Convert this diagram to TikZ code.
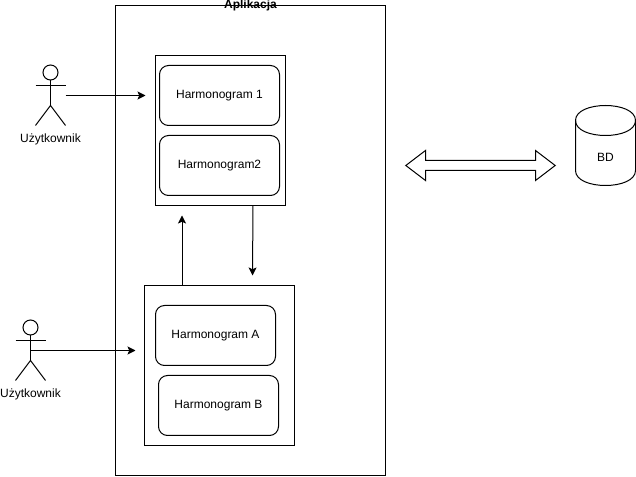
\documentclass[tikz,border=0pt]{standalone}
\usepackage{fontspec}
\setmainfont{Liberation Sans}
\usetikzlibrary{arrows.meta,positioning}
\tikzset{
  line/.style={draw=black,line width=0.75pt},
  box/.style={line,rectangle,inner sep=0pt,fill=none},
  rbox/.style={line,rectangle,rounded corners=6.75pt,inner sep=0pt,minimum width=90pt,minimum height=45pt,text height=6.5pt,text depth=1.5pt,font=\fontsize{9pt}{11pt}\selectfont},
  lbl/.style={inner sep=0pt,text height=6.5pt,text depth=1.5pt,font=\fontsize{9pt}{11pt}\selectfont},
  flow/.style={line,-{Stealth[length=6pt,width=6pt,inset=1.3pt]},shorten <=0pt,shorten >=0pt},
  headc/.style={line,circle,inner sep=0pt,minimum size=11.25pt}
}
\begin{document}
\begin{tikzpicture}[x=0.75pt,y=-0.75pt]
\useasboundingbox (0,0) rectangle (636,477);
\fill[white] (0,0) rectangle (636,477);
% outer frame
\node[box,minimum width=202.5pt,minimum height=352.5pt] (app) at (250.5,240.5) {};
\node[lbl,font=\fontsize{9pt}{11pt}\selectfont\bfseries] (apptitle) at (250.5,5.5) {Aplikacja};
% upper group
\node[box,minimum width=97.5pt,minimum height=112.5pt] (g1) at (220.5,130.5) {};
\node[rbox] (h1) at (219.5,95.5) {Harmonogram 1};
\node[rbox] (h2) at (219.5,165.5) {Harmonogram2};
% lower group
\node[box,minimum width=112.5pt,minimum height=120pt] (g2) at (219.5,365.5) {};
\node[rbox] (ha) at (215.5,335.5) {Harmonogram A};
\node[rbox] (hb) at (218.5,405.5) {Harmonogram B};
% actor 1
\node[headc] (a1) at (50.5,72.5) {};
\coordinate (a1hip) at (50.5,105.5);
\draw[line] (a1.south) -- (a1hip);
\draw[line] (35.5,85.5) -- (65.5,85.5);
\draw[line] (35.5,125.5) -- (a1hip) -- (65.5,125.5);
\node[lbl] (a1t) at (50.5,139.5) {Użytkownik};
% actor 2
\node[headc] (a2) at (30.5,327.5) {};
\coordinate (a2hip) at (30.5,360.5);
\draw[line] (a2.south) -- (a2hip);
\draw[line] (15.5,340.5) -- (45.5,340.5);
\draw[line] (15.5,380.5) -- (a2hip) -- (45.5,380.5);
\node[lbl] (a2t) at (30.5,394.5) {Użytkownik};
% connectors
\coordinate (a1out) at (65.5,95.5);
\coordinate (a1in) at (145.5,95.5);
\draw[flow] (a1out) -- (a1in);
\coordinate (a2out) at (30.5,350.5);
\coordinate (a2in) at (135.5,350.5);
\draw[flow] (a2out) -- (a2in);
\coordinate (upfrom) at (182,285.5);
\coordinate (upto) at (182,215.5);
\draw[flow] (upfrom) -- (upto);
\coordinate (downfrom) at (253,205.5);
\coordinate (downto) at (252.5,275.5);
\draw[flow] (downfrom) -- (downto);
% double block arrow
\draw[line,line join=miter] (405.8,165.5) -- (425.5,150.5) -- (425.5,160.5) -- (535.5,160.5) -- (535.5,150.5) -- (555.2,165.5) -- (535.5,180.5) -- (535.5,170.5) -- (425.5,170.5) -- (425.5,180.5) -- cycle;
% database
\draw[line] (575.5,120.5) .. controls (575.5,100.5) and (635.5,100.5) .. (635.5,120.5)
  -- (635.5,170.5) .. controls (635.5,190.5) and (575.5,190.5) .. (575.5,170.5) -- cycle;
\draw[line] (575.5,120.5) .. controls (575.5,140.5) and (635.5,140.5) .. (635.5,120.5);
\node[lbl] (bd) at (605.5,158) {BD};
\end{tikzpicture}
\end{document}
